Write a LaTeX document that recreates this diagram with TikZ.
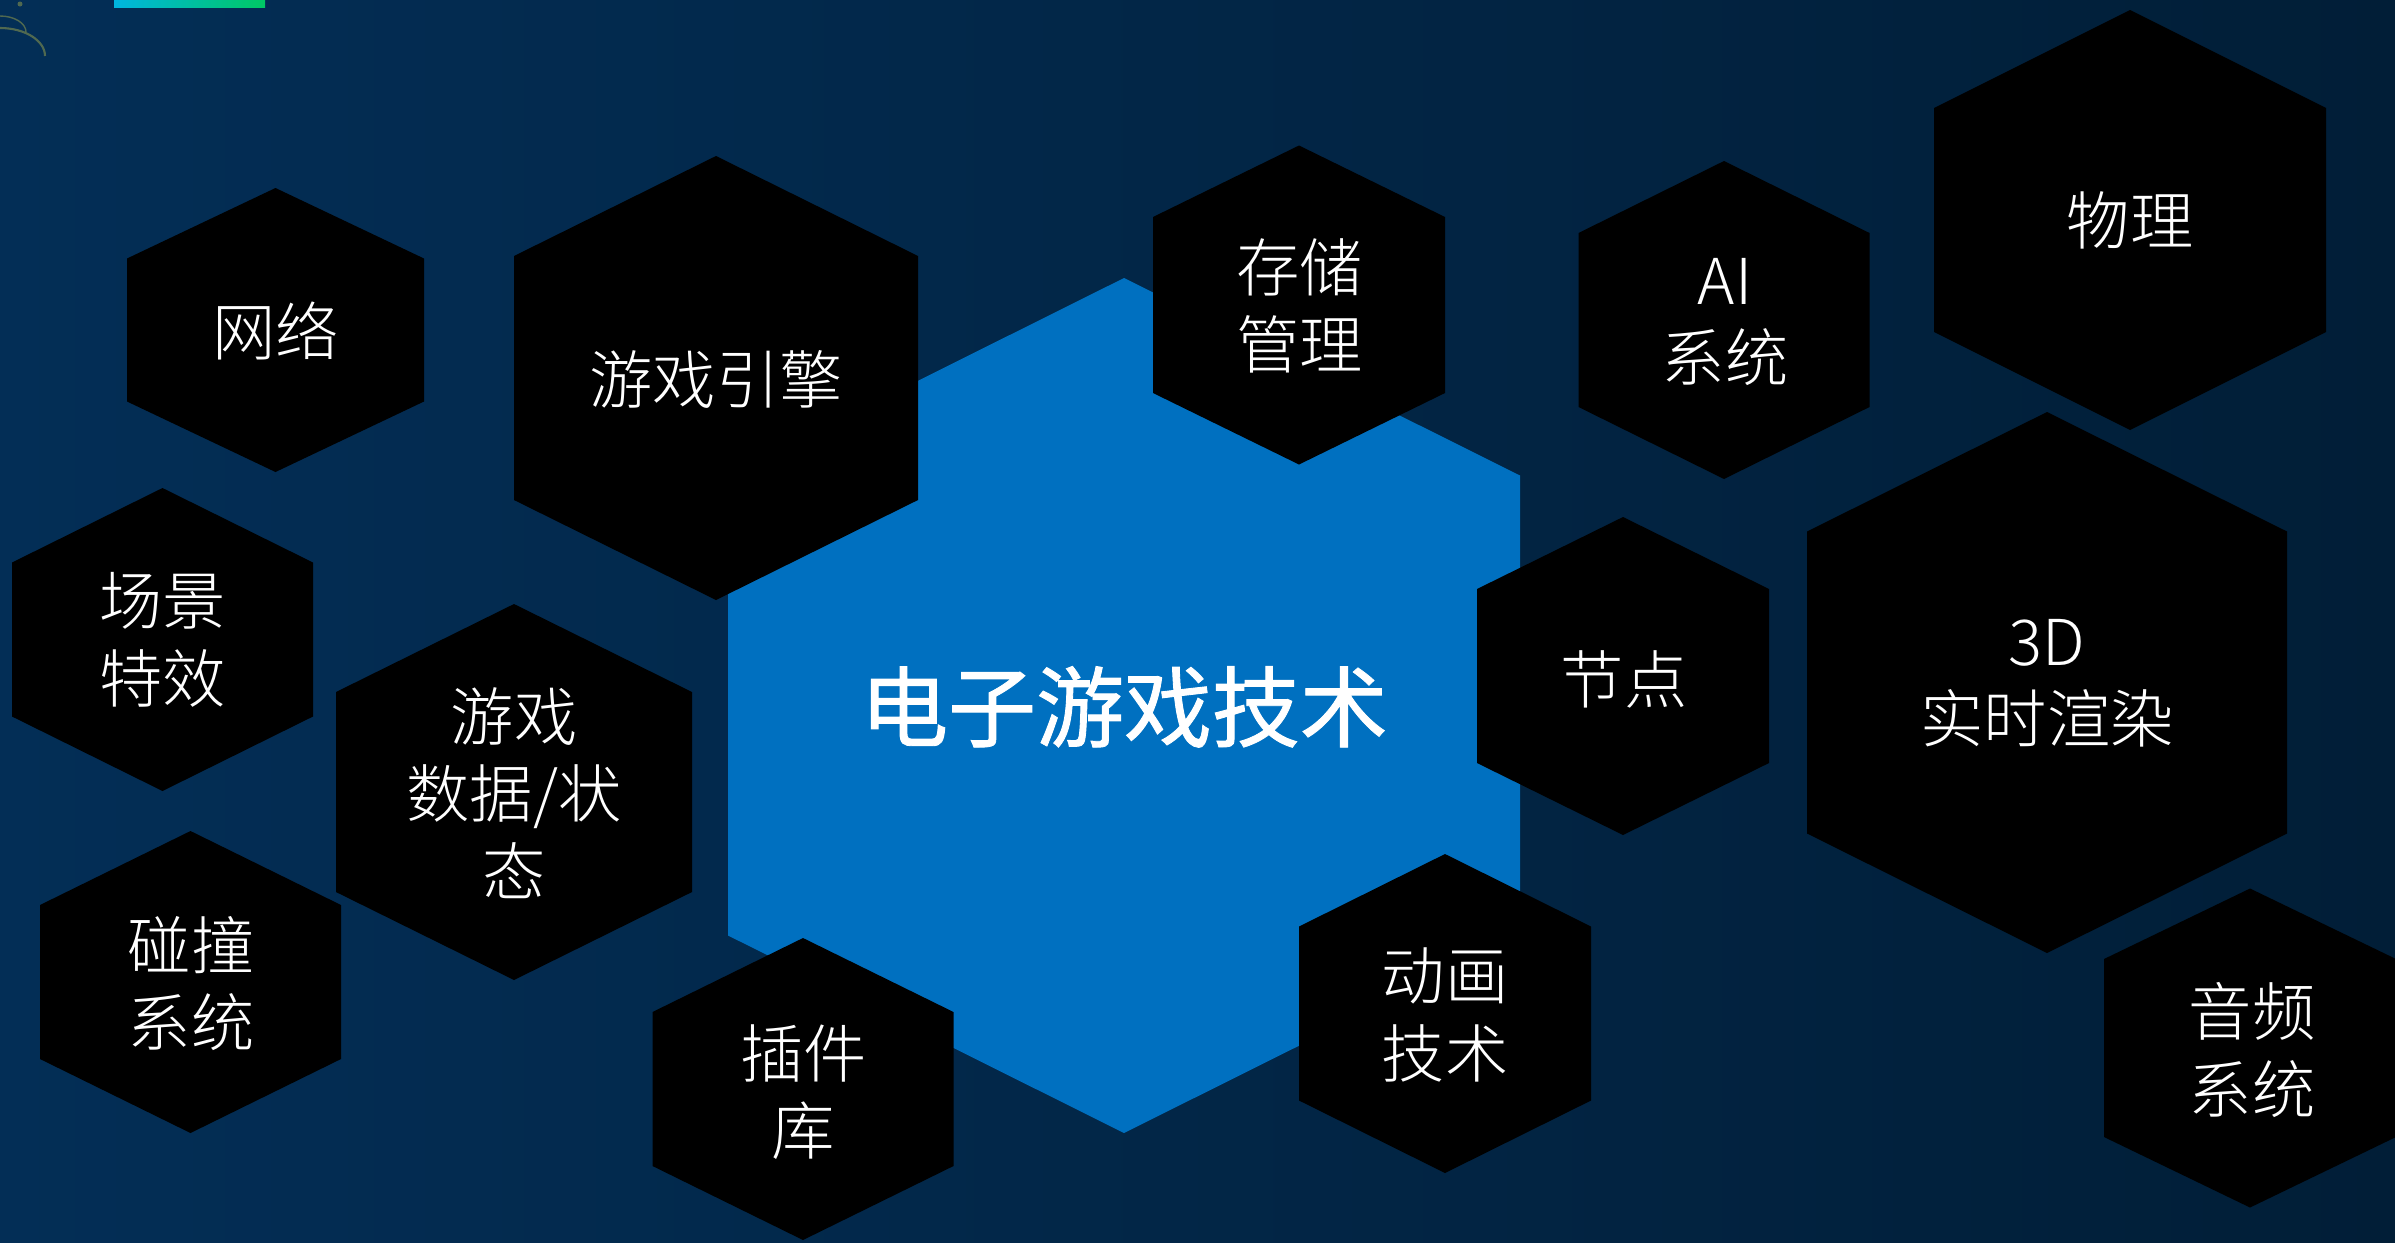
\documentclass[tikz,border=0pt]{standalone}
\usepackage{fontspec}
\setmainfont{Noto Sans CJK SC Light}
\newfontfamily\cjkbold[FakeBold=1]{Noto Sans CJK SC}
\definecolor{bgL}{RGB}{3,46,86}
\definecolor{bgR}{RGB}{1,30,55}
\definecolor{hexblue}{RGB}{0,112,192}
\definecolor{barA}{RGB}{0,182,224}
\definecolor{barB}{RGB}{0,200,100}
\definecolor{logoc}{RGB}{80,105,80}
\newcommand\hexshape[6]{%
  \fill[#6] (#1,#2-#4) -- (#1+#3,#2-#5) -- (#1+#3,#2+#5) -- (#1,#2+#4)
    -- (#1-#3,#2+#5) -- (#1-#3,#2-#5) -- cycle;}
\tikzset{
  lbl/.style={text=white, align=center, inner sep=0pt,
    font=\fontsize{18}{22}\selectfont},
  biglbl/.style={text=white, align=center, inner sep=0pt,
    font=\cjkbold\fontsize{25}{30}\selectfont},
  blackhex/.style={fill=black},
  bluehex/.style={fill=hexblue}
}
\begin{document}
\begin{tikzpicture}[x=0.01cm,y=-0.01cm]
\useasboundingbox (0,0) rectangle (2395,1242);
% background
\shade[left color=bgL, right color=bgR] (0,0) rectangle (2395,1242);
% logo fragment and bar
\draw[logoc, line width=0.6pt] (0,28) arc[start angle=270, end angle=360, x radius=45, y radius=28];
\draw[logoc, line width=0.4pt] (0,16) arc[start angle=270, end angle=360, x radius=26, y radius=16];
\fill[logoc] (20,4) circle (2.5);
\shade[left color=barA, right color=barB] (114,0) rectangle (265,7);
% central hexagon
\hexshape{1124}{705.5}{396}{427.5}{230}{bluehex}
% black hexagons
\hexshape{275.5}{330}{148.5}{142}{71.5}{blackhex}
\hexshape{716}{378}{202}{222}{122}{blackhex}
\hexshape{162.5}{639.5}{150.5}{151.5}{77}{blackhex}
\hexshape{514}{792}{178}{188}{100}{blackhex}
\hexshape{190.5}{982}{150.5}{151}{77}{blackhex}
\hexshape{803}{1089}{150.5}{151}{77}{blackhex}
\hexshape{1299}{305}{146}{159.5}{88}{blackhex}
\hexshape{1724}{320}{145.5}{159}{87}{blackhex}
\hexshape{1623}{676}{146}{159}{87}{blackhex}
\hexshape{2130}{220}{196}{210}{112}{blackhex}
\hexshape{2047}{682.5}{240}{270.5}{151}{blackhex}
\hexshape{1445}{1013.5}{146}{159.5}{87}{blackhex}
\hexshape{2250}{1048}{146}{159.5}{89}{blackhex}
% labels
\node[biglbl] (core) at (1124,707) {电子游戏技术};
\node[lbl] (net) at (275.5,331) {网络};
\node[lbl] (engine) at (716,379) {游戏引擎};
\node[lbl] (scene) at (162.5,640) {场景\\特效};
\node[lbl] (data) at (514,793) {游戏\\数据/状\\态};
\node[lbl] (collide) at (191,983.5) {碰撞\\系统};
\node[lbl] (plugin) at (803.5,1092) {插件\\库};
\node[lbl] (storage) at (1299.5,306) {存储\\管理};
\node[lbl] (ai) at (1725,322) {AI\\系统};
\node[lbl] (nodes) at (1624,679) {节点};
\node[lbl] (physics) at (2130,220) {物理};
\node[lbl] (render) at (2047,683) {3D\\实时渲染};
\node[lbl] (anim) at (1445,1015) {动画\\技术};
\node[lbl] (audio) at (2252,1050) {音频\\系统};
\end{tikzpicture}
\end{document}
